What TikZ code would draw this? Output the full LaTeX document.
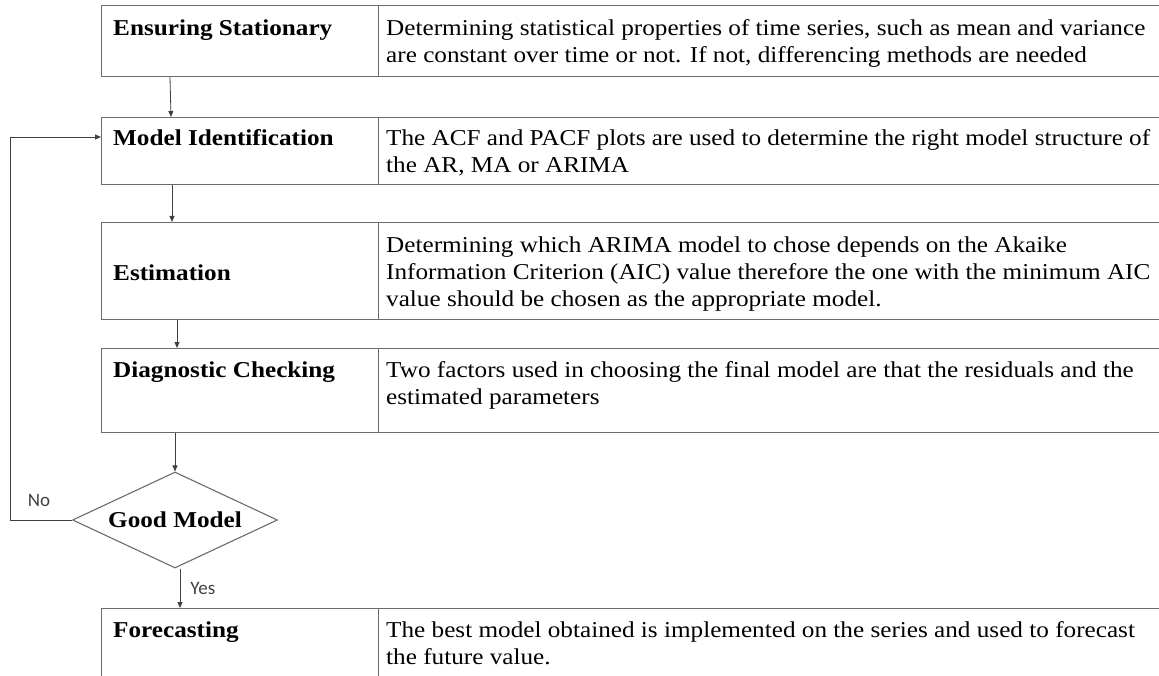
\documentclass[tikz,border=0pt]{standalone}
\usepackage{fontspec}
\setmainfont{Liberation Serif}[FakeStretch=1.11]
\newfontfamily\labelfont{Carlito}
\usetikzlibrary{shapes.geometric,arrows.meta}
\begin{document}
\begin{tikzpicture}[x=1pt,y=-1pt,
  edge/.style={draw=black!58, line width=1.1pt},
  stepbox/.style={edge, rectangle, inner sep=0pt, anchor=north west},
  head/.style={font=\fontsize{22.7}{27}\selectfont\bfseries, anchor=base west, inner sep=0pt},
  desc/.style={font=\fontsize{22.7}{27}\selectfont, anchor=base west, inner sep=0pt, align=left},
  arr/.style={draw=black!75, line width=0.8pt, -{Triangle[length=6pt,width=5pt]}},
  tag/.style={font=\labelfont\fontsize{19}{22}\selectfont, text=black!75, inner sep=0pt}
]
\useasboundingbox (0,0) rectangle (1159,676);
\clip (0,0) rectangle (1159,676);

% left column (step names) and right column (descriptions)
\node[stepbox, minimum width=277pt, minimum height=71pt] (k1) at (101,5) {};
\node[stepbox, minimum width=800pt, minimum height=71pt] (d1) at (378,5) {};
\node[stepbox, minimum width=277pt, minimum height=67pt] (k2) at (101,117) {};
\node[stepbox, minimum width=800pt, minimum height=67pt] (d2) at (378,117) {};
\node[stepbox, minimum width=277pt, minimum height=97pt] (k3) at (101,222) {};
\node[stepbox, minimum width=800pt, minimum height=97pt] (d3) at (378,222) {};
\node[stepbox, minimum width=277pt, minimum height=84pt] (k4) at (101,348) {};
\node[stepbox, minimum width=800pt, minimum height=84pt] (d4) at (378,348) {};
\node[stepbox, minimum width=277pt, minimum height=100pt] (k5) at (101,608) {};
\node[stepbox, minimum width=800pt, minimum height=100pt] (d5) at (378,608) {};

% decision
\node[edge, diamond, aspect=2.2, minimum width=205pt, minimum height=96pt, inner sep=0pt,
      font=\fontsize{22.7}{27}\selectfont\bfseries] (g) at (175,520) {Good Model};

% step names
\node[head] (h1) at (113,36) {Ensuring Stationary};
\node[head] (h2) at (113,146) {Model Identification};
\node[head] (h3) at (113,281) {Estimation};
\node[head] (h4) at (113,377) {Diagnostic Checking};
\node[head] (h5) at (113,637) {Forecasting};

% descriptions (anchored on the baseline of their last line)
\node[desc] (t1) at (386,63) {Determining statistical properties of time series, such as mean and variance\\
are constant over time or not. If not, differencing methods are needed};
\node[desc] (t2) at (386,173) {The ACF and PACF plots are used to determine the right model structure of\\
the AR, MA or ARIMA};
\node[desc] (t3) at (386,306) {Determining which ARIMA model to chose depends on the Akaike\\
Information Criterion (AIC) value therefore the one with the minimum AIC\\
value should be chosen as the appropriate model.};
\node[desc] (t4) at (386,404) {Two factors used in choosing the final model are that the residuals and the\\
estimated parameters};
\node[desc] (t5) at (386,664) {The best model obtained is implemented on the series and used to forecast\\
the future value.};

% flow
\draw[arr] ([xshift=69pt]k1.south west) -- ([xshift=70pt]k2.north west);
\draw[arr] ([xshift=71pt]k2.south west) -- ([xshift=71pt]k3.north west);
\draw[arr] ([xshift=76pt]k3.south west) -- ([xshift=76pt]k4.north west);
\draw[arr] ([xshift=74pt]k4.south west) -- (g.north);
\draw[arr] ([xshift=5pt]g.south) -- ([xshift=79pt]k5.north west)
  node[tag, midway, right=10pt] (yes) {Yes};
\draw[arr] (g.west) -- ++(-62,0) |- ([yshift=-20pt]k2.north west);
\node[tag] (no) at (39,500) {No};
\end{tikzpicture}
\end{document}
